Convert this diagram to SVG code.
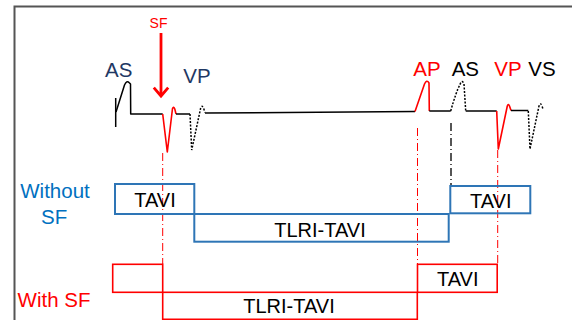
<svg xmlns="http://www.w3.org/2000/svg" width="572" height="320" viewBox="0 0 572 320">
<style>
.lbl{font-family:"Liberation Sans",Arial,sans-serif;font-size:20.5px}
.box{font-family:"Liberation Sans",Arial,sans-serif;font-size:20px;fill:#000;text-anchor:middle}
.navy{fill:#1F3864}
.red{fill:#FF0000}
.blk{fill:#000}
.blu{fill:#0070C0}
.bbox{fill:none;stroke:#2E75B6;stroke-width:2}
.rbox{fill:none;stroke:#FF0000;stroke-width:1.6}
.w{fill:none;stroke:#000;stroke-width:1.5;stroke-linejoin:round}
.wr{fill:none;stroke:#FF0000;stroke-width:1.6;stroke-linejoin:round}
.wd{fill:none;stroke:#000;stroke-width:1.5;stroke-dasharray:2 1.5}
.dd{fill:none;stroke:#FF0000;stroke-width:1;stroke-dasharray:8 3 1 3}
.dg{fill:none;stroke:#555;stroke-width:2;stroke-dasharray:8 3 1 3}
</style>
<defs>
<marker id="chev" markerUnits="userSpaceOnUse" markerWidth="20" markerHeight="20" refX="10" refY="10" orient="auto" overflow="visible">
<path d="M1.6 2.8 L10 10 L1.6 17.2" fill="none" stroke="#FF0000" stroke-width="2.8"/>
</marker>
</defs>
<rect width="572" height="320" fill="#fff"/>
<g id="frame">
<path d="M14.5 320 V6.5 H572" fill="none" stroke="#555" stroke-width="2"/>
</g>
<g id="waveform">
<path class="w" d="M115.7 98 V127"/>
<path class="w" d="M116 112 L124.5 85 Q126.8 80 129 82.5 L130.5 84 L130.7 114 L162.7 114"/>
<path class="wr" d="M162.7 114 L167.3 152 L172.5 108.5 Q173.6 106 174.8 109 L176 114"/>
<path class="w" d="M176 114 H190"/>
<path class="wd" d="M190 114 L191.7 150 L200.8 107.5 Q202 105 203.5 108 L205 112.5"/>
<path class="w" d="M205 113 L415 111.5"/>
<path class="wr" d="M415 111.5 L424.5 84 Q426.7 79 429 83 L429.3 111"/>
<path class="w" d="M429.3 111 H450.7"/>
<path class="wd" d="M450.7 111 Q456 92 460 84.5 Q462 79 464 84 L465.7 111"/>
<path class="w" d="M465.7 111 H496.7"/>
<path class="wr" d="M496.7 111 L498.3 149 L507.3 106 Q508.3 103 509.5 106 L511 110.5"/>
<path class="w" d="M511 110.5 H528.3"/>
<path class="wd" d="M528.3 111 L530 149 L539 106 Q540.5 102 542 106 L543 109"/>
</g>
<g id="wave-labels">
<text class="lbl navy" x="105" y="77">AS</text>
<text class="lbl navy" x="183.3" y="83">VP</text>
<text class="lbl red" x="413.3" y="76">AP</text>
<text class="lbl blk" x="451.7" y="76">AS</text>
<text class="lbl red" x="494.3" y="76">VP</text>
<text class="lbl blk" x="528.3" y="76">VS</text>
</g>
<g id="sf-marker">
<text x="158.5" y="28" font-family="Liberation Sans,Arial,sans-serif" font-size="14" fill="#FF0000" text-anchor="middle">SF</text>
<path d="M161 33 V96" stroke="#FF0000" stroke-width="2.8" fill="none" marker-end="url(#chev)"/>
</g>
<g id="connectors">
<path class="dd" d="M162.7 153 V264"/>
<path class="dd" d="M417.5 128 V264"/>
<path class="dg" d="M451 123 V185"/>
<path class="dd" d="M497.7 150 V264"/>
</g>
<g id="row-labels">
<text class="lbl blu" x="55" y="198.3" text-anchor="middle">Without</text>
<text class="lbl blu" x="54.2" y="224" text-anchor="middle">SF</text>
<text class="lbl red" x="54" y="307.3" text-anchor="middle">With SF</text>
</g>
<g id="without-tavi-1">
<rect class="bbox" x="115" y="184" width="79.3" height="30"/>
<text class="box" x="155" y="207.3">TAVI</text>
</g>
<g id="without-tlri-tavi">
<rect class="bbox" x="194.3" y="214" width="254.4" height="27.7"/>
<text class="box" x="320" y="236.7">TLRI-TAVI</text>
</g>
<g id="without-tavi-2">
<rect class="bbox" x="450.3" y="186" width="80" height="27.3"/>
<text class="box" x="490.7" y="207.7">TAVI</text>
</g>
<g id="with-pre">
<rect class="rbox" x="112.7" y="264.3" width="50" height="28"/>
</g>
<g id="with-tlri-tavi">
<rect class="rbox" x="162.7" y="292.3" width="254.6" height="27"/>
<text class="box" x="289" y="313.3">TLRI-TAVI</text>
</g>
<g id="with-tavi">
<rect class="rbox" x="417.5" y="264.3" width="79.7" height="28"/>
<text class="box" x="457.7" y="285.7">TAVI</text>
</g>
</svg>
